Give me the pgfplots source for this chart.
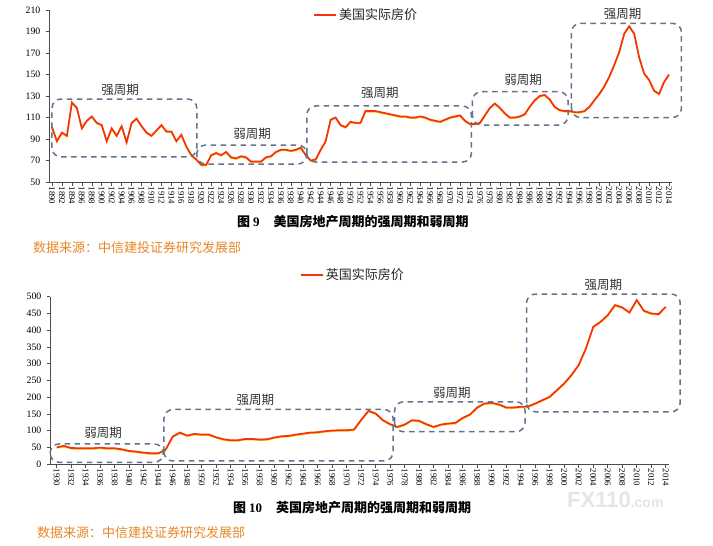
\documentclass[border=0pt]{standalone}
\usepackage{fontspec}
\setmainfont{Liberation Serif}
\newfontfamily\cjk{Noto Sans CJK SC}
\newfontfamily\sansf{Liberation Sans}
\usepackage{pgfplots}
\pgfplotsset{compat=1.18}
\usepackage{pgfplotstable}

\definecolor{boxc}{RGB}{100,115,140}
\definecolor{linered}{RGB}{245,50,15}
\definecolor{lineyel}{RGB}{255,200,0}
\definecolor{srcor}{RGB}{232,135,40}
\tikzset{cyc/.style={draw=boxc, line width=1.5pt, dash pattern=on 5.5pt off 4.5pt, rounded corners=9pt}}
\tikzset{lab/.style={font=\cjk\fontsize{12.5}{13}\selectfont, text=black!80}}

\pgfplotstableread{
year val
1890 101
1891 88
1892 96
1893 93
1894 124
1895 119
1896 100
1897 107
1898 111
1899 105
1900 103
1901 88
1902 100
1903 93
1904 102
1905 87
1906 105
1907 109
1908 102
1909 96
1910 93
1911 98
1912 103
1913 97
1914 97
1915 88
1916 94
1917 83
1918 75
1919 71
1920 66
1921 66
1922 75
1923 77
1924 75
1925 78
1926 73
1927 72
1928 74
1929 73
1930 69
1931 69
1932 69
1933 73
1934 74
1935 78
1936 80
1937 80
1938 79
1939 80
1940 82
1941 75
1942 70
1943 71
1944 80
1945 88
1946 108
1947 110
1948 103
1949 101
1950 106
1951 105
1952 105
1953 116
1954 116
1955 116
1956 115
1957 114
1958 113
1959 112
1960 111
1961 111
1962 110
1963 110
1964 111
1965 110
1966 108
1967 107
1968 106
1969 108
1970 110
1971 111
1972 112
1973 107
1974 104
1975 104
1976 105
1977 112
1978 119
1979 123
1980 119
1981 114
1982 110
1983 110
1984 111
1985 113
1986 120
1987 126
1988 130
1989 131
1990 127
1991 120
1992 117
1993 116
1994 116
1995 115
1996 115
1997 116
1998 120
1999 126
2000 132
2001 139
2002 148
2003 159
2004 171
2005 188
2006 195
2007 188
2008 166
2009 151
2010 145
2011 135
2012 132
2013 143
2014 150
}\usdata

\pgfplotstableread{
year val
1930 50
1931 54
1932 48
1933 47
1934 47
1935 47
1936 49
1937 47
1938 47
1939 44
1940 39
1941 37
1942 34
1943 32
1944 32
1945 42
1946 82
1947 94
1948 85
1949 90
1950 88
1951 88
1952 80
1953 74
1954 71
1955 71
1956 75
1957 75
1958 73
1959 74
1960 79
1961 83
1962 84
1963 88
1964 91
1965 94
1966 95
1967 98
1968 100
1969 101
1970 101
1971 103
1972 132
1973 159
1974 151
1975 131
1976 119
1977 111
1978 118
1979 131
1980 129
1981 119
1982 111
1983 118
1984 121
1985 123
1986 138
1987 148
1988 169
1989 181
1990 183
1991 178
1992 169
1993 169
1994 171
1995 172
1996 181
1997 191
1998 201
1999 221
2000 241
2001 266
2002 296
2003 346
2004 410
2005 425
2006 445
2007 475
2008 468
2009 453
2010 490
2011 458
2012 450
2013 448
2014 470
}\ukdata

\pgfplotsset{
  cycstyle/.style={
    scale only axis,
    axis x line=bottom, axis y line=left,
    axis line style={-, draw=black!70, line width=0.6pt},
    tick align=outside, major tick length=3.5pt,
    tick style={black!70, line width=0.5pt},
    /pgf/number format/1000 sep={},
    /pgf/number format/assume math mode=true,
    x tick label style={rotate=-90, anchor=west, font=\fontsize{8.8}{9}\selectfont, inner sep=1pt},
    y tick label style={font=\fontsize{9.8}{10}\selectfont, inner sep=1pt, xshift=-4pt},
    clip=false, no markers,
    legend style={draw=none, fill=none, anchor=west, inner sep=0pt,
      font=\cjk\fontsize{13}{14}\selectfont, text=black!85},
    legend image code/.code={\draw[#1] (0pt,0pt) -- (22pt,0pt);},
  }
}

\begin{document}
\begin{tikzpicture}
\path[use as bounding box, fill=white] (0,0) rectangle (713pt,-546pt);

% ---------- US chart ----------
\begin{axis}[cycstyle,
  at={(49pt,-182pt)}, anchor=south west,
  width=623pt, height=172pt,
  xmin=1889.4, xmax=2014.6, ymin=50, ymax=210,
  xtick={1890,1892,...,2014}, ytick={50,70,...,210},
  legend style={at={(0.424,0.971)}},
]
\addplot[draw=lineyel, line width=1.3pt, yshift=-0.8pt, forget plot] table {\usdata};
\addplot[draw=linered, line width=1.7pt] table {\usdata};
\addlegendentry{美国实际房价}
\draw[cyc] (axis cs:1890,73.3) rectangle (axis cs:1919.1,127.2);
\draw[cyc] (axis cs:1919.1,66.7) rectangle (axis cs:1941.2,84.4);
\draw[cyc] (axis cs:1941.2,68.6) rectangle (axis cs:1974.3,120.7);
\draw[cyc] (axis cs:1974.5,103) rectangle (axis cs:1993.7,134);
\draw[cyc] (axis cs:1994.4,110) rectangle (axis cs:2016.5,197.6);
\node[lab] at (axis cs:1903.7,136) {强周期};
\node[lab] at (axis cs:1930.2,94.6) {弱周期};
\node[lab] at (axis cs:1955.9,132.8) {强周期};
\node[lab] at (axis cs:1984.7,145) {弱周期};
\node[lab] at (axis cs:2004.7,206) {强周期};
\end{axis}

\node[anchor=west, inner sep=0pt] at (237pt,-222pt)
  {{\cjk\bfseries\fontsize{13}{14}\selectfont 图}\hspace{3pt}{\bfseries\fontsize{13}{14}\selectfont 9}\hspace{14pt}{\cjk\bfseries\fontsize{13}{14}\selectfont 美国房地产周期的强周期和弱周期}};
\node[anchor=west, inner sep=0pt, text=srcor] at (33pt,-248pt)
  {\cjk\fontsize{13}{14}\selectfont 数据来源：中信建投证券研究发展部};

% ---------- UK chart ----------
\begin{axis}[cycstyle,
  at={(50pt,-464pt)}, anchor=south west,
  width=619pt, height=167.3pt,
  xmin=1929.08, xmax=2014.45, ymin=0, ymax=500,
  xtick={1930,1932,...,2014}, ytick={0,50,...,500},
  legend style={at={(0.404,1.13)}},
]
\addplot[draw=lineyel, line width=1.3pt, yshift=-0.8pt, forget plot] table {\ukdata};
\addplot[draw=linered, line width=1.7pt] table {\ukdata};
\addlegendentry{英国实际房价}
\draw[cyc] (axis cs:1929.1,5) rectangle (axis cs:1944.7,60);
\draw[cyc] (axis cs:1944.8,9) rectangle (axis cs:1976.4,163);
\draw[cyc] (axis cs:1976.6,96.5) rectangle (axis cs:1994.6,186);
\draw[cyc] (axis cs:1994.8,156) rectangle (axis cs:2016,508);
\node[lab] at (axis cs:1936.4,92) {弱周期};
\node[lab] at (axis cs:1957.4,191) {强周期};
\node[lab] at (axis cs:1984.5,213) {弱周期};
\node[lab] at (axis cs:2005.4,535) {强周期};
\end{axis}

\node[anchor=west, inner sep=0pt] at (233pt,-508pt)
  {{\cjk\bfseries\fontsize{13}{14}\selectfont 图}\hspace{3pt}{\bfseries\fontsize{13}{14}\selectfont 10}\hspace{14pt}{\cjk\bfseries\fontsize{13}{14}\selectfont 英国房地产周期的强周期和弱周期}};
\node[anchor=west, inner sep=0pt, text=srcor] at (37pt,-533pt)
  {\cjk\fontsize{13}{14}\selectfont 数据来源：中信建投证券研究发展部};
\node[anchor=west, inner sep=0pt, text=black!10] at (567pt,-500pt)
  {\sansf\bfseries\fontsize{22}{24}\selectfont FX110{\fontsize{14}{16}\selectfont .com}};
\end{tikzpicture}
\end{document}
